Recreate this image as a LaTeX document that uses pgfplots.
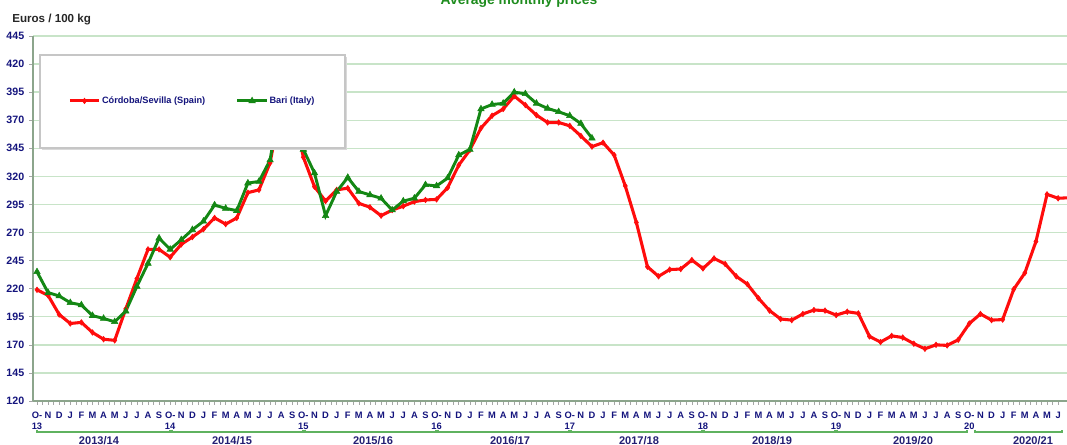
\documentclass[border=0pt]{standalone}
\usepackage{fontspec}
\setmainfont{Liberation Sans}
\usepackage{pgfplots}
\pgfplotsset{compat=1.18}
\definecolor{redl}{RGB}{255,12,12}
\definecolor{greenl}{RGB}{20,135,20}
\definecolor{gridg}{RGB}{200,228,200}
\definecolor{axg}{RGB}{140,165,140}
\definecolor{navy}{RGB}{20,20,125}
\definecolor{pernavy}{RGB}{35,30,115}
\definecolor{brk}{RGB}{95,178,95}
\definecolor{titg}{RGB}{30,140,30}
\begin{document}
\begin{tikzpicture}[x=1pt,y=1pt]
\begin{axis}[
  set layers,
  at={(24.75pt,33pt)}, anchor=south west,
  scale only axis, width=775.5pt, height=273.75pt,
  xmin=-0.36, xmax=92.8, ymin=120, ymax=445,
  ytick={120,145,...,445},
  xtick={0,...,92},
  xticklabels={{O-\\13},N,D,J,F,M,A,M,J,J,A,S,
               {O-\\14},N,D,J,F,M,A,M,J,J,A,S,
               {O-\\15},N,D,J,F,M,A,M,J,J,A,S,
               {O-\\16},N,D,J,F,M,A,M,J,J,A,S,
               {O-\\17},N,D,J,F,M,A,M,J,J,A,S,
               {O-\\18},N,D,J,F,M,A,M,J,J,A,S,
               {O-\\19},N,D,J,F,M,A,M,J,J,A,S,
               {O-\\20},N,D,J,F,M,A,M,J},
  minor x tick num=1,
  axis lines=left, axis line style={-, draw=axg, line width=1pt},
  ymajorgrids, grid style={draw=gridg, line width=1pt},
  tick align=outside, major tick length=3pt, minor tick length=3pt,
  tick style={draw=gray!70, line width=0.5pt},
  /pgf/number format/assume math mode=true,
  xticklabel style={font=\bfseries\fontsize{7}{8.25}\selectfont, text=navy, align=center, yshift=-2pt},
  yticklabel style={font=\bfseries\fontsize{8}{9}\selectfont, text=navy},
  legend columns=2,
  legend style={at={(0.030,0.822)}, anchor=west, draw=none, fill=none,
    font=\bfseries\fontsize{6.9}{8}\selectfont, text=navy,
    /tikz/every even column/.append style={column sep=22pt},
    nodes={inner sep=1pt}},
  legend image code/.code={\draw[mark repeat=2,mark phase=2] plot coordinates {(0pt,0pt) (11pt,0pt) (22pt,0pt)};},
]
\addplot[color=redl, line width=2.3pt, mark=diamond*, mark size=2.1pt, mark options={solid, line width=0.4pt}] coordinates {
(0,219) (1,214) (2,197) (3,189) (4,190) (5,181) (6,175) (7,174) (8,202) (9,229)
(10,255) (11,255) (12,248) (13,259.5) (14,266) (15,273) (16,283) (17,277.5) (18,283) (19,305.5)
(20,308) (21,332) (22,385) (23,383) (24,337) (25,310.8) (26,298) (27,308) (28,309.5) (29,296)
(30,292.5) (31,285) (32,290) (33,293.5) (34,297.5) (35,299) (36,299.5) (37,310) (38,330) (39,343.5)
(40,363) (41,374) (42,380) (43,391.5) (44,383.5) (45,374.5) (46,368) (47,368) (48,365) (49,356)
(50,346.5) (51,350) (52,339) (53,311.5) (54,279) (55,239.5) (56,231) (57,237) (58,237.5) (59,245.5)
(60,238) (61,247) (62,242) (63,231) (64,224) (65,211.5) (66,200.5) (67,193) (68,192) (69,197.5)
(70,201) (71,200.5) (72,196.5) (73,199.5) (74,198) (75,177.5) (76,172.5) (77,178) (78,176.5) (79,171)
(80,166.5) (81,170) (82,169.5) (83,174.5) (84,189) (85,197.5) (86,192) (87,192.5) (88,219.5) (89,234)
(90,262) (91,304) (92,300.5) (93,301)
};
\addlegendentry{Córdoba/Sevilla (Spain)}
\addplot[color=greenl, line width=2.2pt, mark=triangle*, mark size=2.8pt, mark options={solid, line width=0.4pt}] coordinates {
(0,235) (1,216.5) (2,213.5) (3,207.5) (4,205.5) (5,196) (6,193.5) (7,190.5) (8,200) (9,222)
(10,242.5) (11,265) (12,255) (13,263.5) (14,272.5) (15,280) (16,294.5) (17,291.5) (18,289.5) (19,314)
(20,315.5) (21,334.5) (22,395) (23,392) (24,344) (25,323) (26,285) (27,306.5) (28,319) (29,306.5)
(30,303.5) (31,300.5) (32,290) (33,298) (34,300.5) (35,312.5) (36,311.5) (37,318.5) (38,339) (39,344)
(40,380) (41,384) (42,385) (43,395) (44,393.5) (45,385) (46,380.5) (47,377.5) (48,374) (49,367)
(50,354)
};
\addlegendentry{Bari (Italy)}
\begin{pgfonlayer}{axis descriptions}
\fill[gray!30] (rel axis cs:0.0088,0.688) rectangle (rel axis cs:0.3037,0.943);
\draw[draw=gray!45, line width=1.2pt, fill=white] (rel axis cs:0.0068,0.693) rectangle (rel axis cs:0.3017,0.948);
\end{pgfonlayer}
\end{axis}
% title (partly cut at top, as in the reference) and unit label
\node[anchor=base, inner sep=0, font=\bfseries\fontsize{10.4}{12}\selectfont, text=titg] at (389.25,330.4) {Average monthly prices};
\node[anchor=base west, inner sep=0, font=\bfseries\fontsize{8.7}{10}\selectfont, text=black!85] at (9,316.5) {Euros / 100 kg};
% season brackets
\begin{scope}[draw=brk, line width=1.1pt]
\draw (27.75,11.5) -- (27.75,9.75) -- (127.5,9.75) -- (127.5,11.5);
\draw (129,11.5) -- (129,9.75) -- (227.25,9.75) -- (227.25,11.5);
\draw (228.75,11.5) -- (228.75,9.75) -- (327,9.75) -- (327,11.5);
\draw (328.5,11.5) -- (328.5,9.75) -- (426.75,9.75) -- (426.75,11.5);
\draw (428.25,11.5) -- (428.25,9.75) -- (526.5,9.75) -- (526.5,11.5);
\draw (528,11.5) -- (528,9.75) -- (626.25,9.75) -- (626.25,11.5);
\draw (627.75,11.5) -- (627.75,9.75) -- (725.25,9.75) -- (725.25,11.5);
\draw (731.25,11.5) -- (731.25,9.75) -- (796.5,9.75) -- (796.5,11.5);
\end{scope}
% season labels
\begin{scope}[every node/.style={anchor=base, inner sep=0, font=\bfseries\fontsize{8.3}{9}\selectfont, text=pernavy}]
\node at (74.25,0.5) {2013/14};
\node at (174,0.5) {2014/15};
\node at (279.75,0.5) {2015/16};
\node at (382.5,0.5) {2016/17};
\node at (479.25,0.5) {2017/18};
\node at (579,0.5) {2018/19};
\node at (684.75,0.5) {2019/20};
\node at (774.75,0.5) {2020/21};
\end{scope}
\pgfresetboundingbox
\useasboundingbox (0,0) rectangle (800.25,333.75);
\end{tikzpicture}
\end{document}
